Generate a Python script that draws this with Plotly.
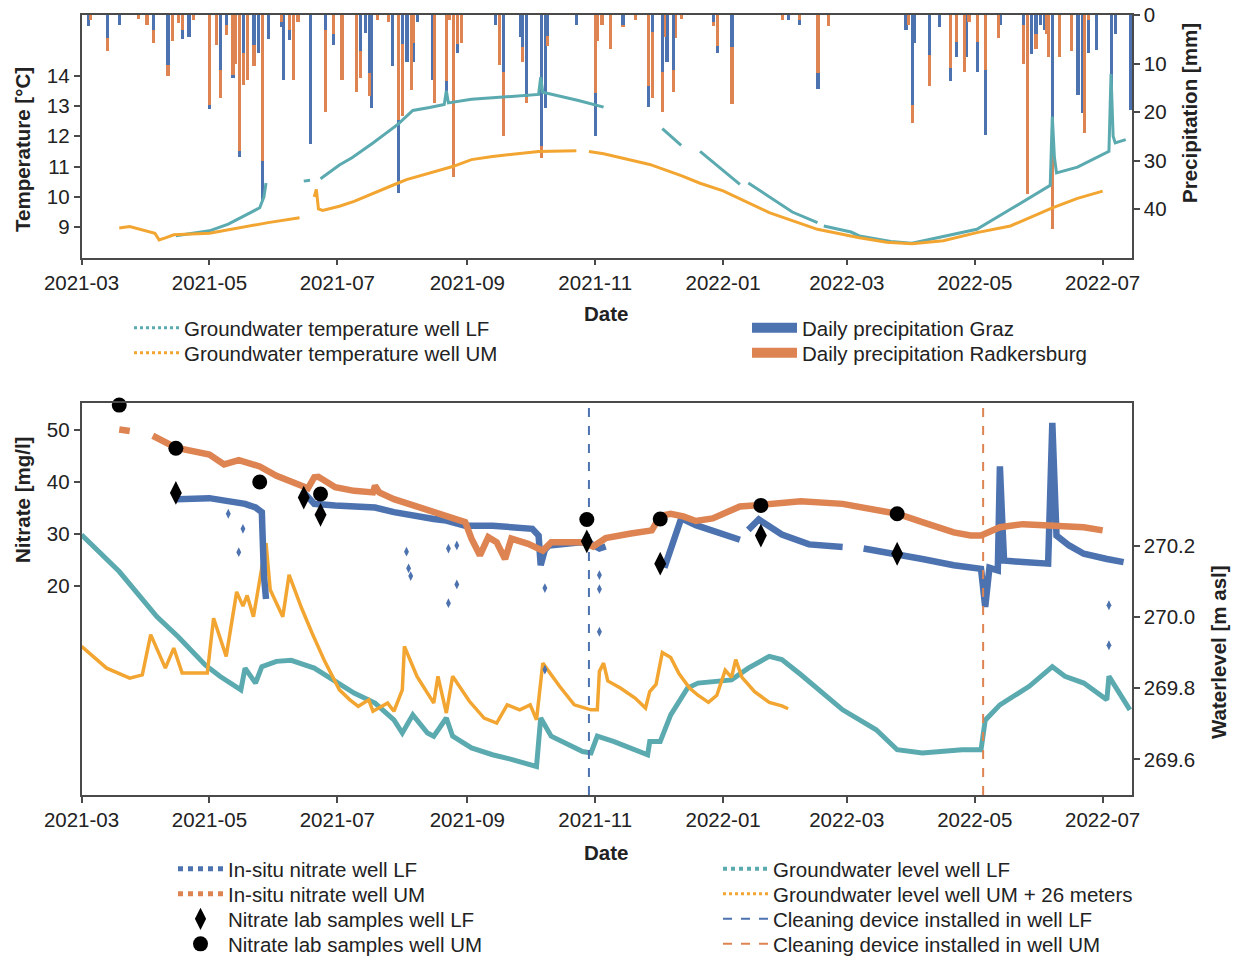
import plotly.graph_objects as go

# ---------------- data ----------------
# daily precipitation [mm]
precip_graz = [
    ("2021-03-04", 2.3), ("2021-03-13", 4.8), ("2021-03-19", 2.0), ("2021-04-04", 3.0),
    ("2021-04-11", 10.3), ("2021-04-18", 5.0), ("2021-04-21", 4.5), ("2021-05-01", 19.4),
    ("2021-05-06", 11.3), ("2021-05-09", 2.0), ("2021-05-12", 13.0), ("2021-05-15", 29.2),
    ("2021-05-17", 7.9), ("2021-05-22", 6.2), ("2021-05-24", 7.9), ("2021-05-26", 38.4),
    ("2021-05-29", 5.0), ("2021-06-04", 2.4), ("2021-06-05", 13.4), ("2021-06-08", 5.2),
    ("2021-06-18", 26.5), ("2021-06-25", 3.0), ("2021-06-29", 6.2), ("2021-07-12", 7.5),
    ("2021-07-14", 3.8), ("2021-07-16", 12.0), ("2021-07-17", 19.2), ("2021-07-27", 10.6),
    ("2021-07-30", 36.7), ("2021-08-01", 6.0), ("2021-08-03", 9.6), ("2021-08-06", 9.6),
    ("2021-08-08", 1.5), ("2021-08-15", 13.4), ("2021-08-22", 17.1), ("2021-08-27", 7.9),
    ("2021-09-14", 2.0), ("2021-09-18", 11.7), ("2021-09-26", 4.5), ("2021-09-27", 6.5),
    ("2021-09-29", 17.0), ("2021-10-06", 27.1), ("2021-10-08", 19.2), ("2021-10-09", 4.3),
    ("2021-10-23", 2.0), ("2021-11-01", 25.0), ("2021-11-14", 2.0), ("2021-11-26", 18.9),
    ("2021-11-28", 3.5), ("2021-12-03", 11.7), ("2021-12-05", 9.6), ("2021-12-08", 11.3),
    ("2021-12-27", 1.5), ("2021-12-29", 7.8), ("2022-01-05", 6.5), ("2022-02-01", 1.0),
    ("2022-02-06", 2.0), ("2022-02-15", 15.3), ("2022-03-29", 3.0), ("2022-04-01", 18.5),
    ("2022-04-02", 5.8), ("2022-04-09", 8.2), ("2022-04-14", 2.5), ("2022-04-19", 13.7),
    ("2022-04-22", 8.6), ("2022-04-27", 8.6), ("2022-05-02", 11.7), ("2022-05-06", 24.7),
    ("2022-05-13", 2.0), ("2022-05-24", 2.0), ("2022-05-28", 8.0), ("2022-05-30", 4.0),
    ("2022-06-01", 2.0), ("2022-06-03", 3.0), ("2022-06-07", 24.0), ("2022-06-19", 16.5),
    ("2022-06-21", 20.2), ("2022-06-24", 7.9), ("2022-06-28", 7.2), ("2022-07-05", 18.9),
    ("2022-07-07", 4.0), ("2022-07-14", 19.5),
]
precip_radkersburg = [
    ("2021-03-05", 1.0), ("2021-03-13", 7.5), ("2021-03-28", 0.8), ("2021-04-01", 2.0),
    ("2021-04-04", 5.8), ("2021-04-11", 12.6), ("2021-04-13", 5.3), ("2021-04-16", 1.7),
    ("2021-04-18", 3.0), ("2021-04-23", 1.0), ("2021-05-01", 18.5), ("2021-05-04", 6.2),
    ("2021-05-06", 17.1), ("2021-05-09", 4.1), ("2021-05-12", 12.4), ("2021-05-13", 10.0),
    ("2021-05-15", 28.1), ("2021-05-17", 14.4), ("2021-05-19", 13.4), ("2021-05-22", 10.6),
    ("2021-05-26", 30.2), ("2021-06-04", 1.5), ("2021-06-08", 3.0), ("2021-06-10", 13.4),
    ("2021-06-12", 1.5), ("2021-06-25", 19.9), ("2021-06-29", 4.0), ("2021-07-03", 13.4),
    ("2021-07-10", 15.8), ("2021-07-12", 13.0), ("2021-07-16", 16.8), ("2021-07-20", 1.0),
    ("2021-07-25", 1.5), ("2021-07-30", 21.6), ("2021-08-01", 20.9), ("2021-08-05", 15.4),
    ("2021-08-06", 5.8), ("2021-08-16", 18.2), ("2021-08-22", 13.7), ("2021-08-23", 1.0),
    ("2021-08-25", 33.3), ("2021-08-27", 6.0), ("2021-08-29", 5.8), ("2021-09-16", 10.3),
    ("2021-09-18", 25.0), ("2021-09-27", 9.6), ("2021-09-29", 18.2), ("2021-10-06", 29.5),
    ("2021-10-09", 6.4), ("2021-11-01", 16.1), ("2021-11-02", 5.4), ("2021-11-04", 2.0),
    ("2021-11-08", 7.0), ("2021-11-14", 2.4), ("2021-11-20", 1.0), ("2021-11-26", 14.6),
    ("2021-11-28", 17.1), ("2021-12-03", 19.9), ("2021-12-04", 4.5), ("2021-12-08", 15.8),
    ("2021-12-09", 4.8), ("2021-12-12", 0.8), ("2021-12-27", 2.2), ("2021-12-29", 6.4),
    ("2022-01-05", 18.3), ("2022-01-29", 1.0), ("2022-02-06", 1.0), ("2022-02-15", 12.0),
    ("2022-02-20", 2.2), ("2022-03-30", 2.0), ("2022-04-01", 22.3), ("2022-04-09", 14.7),
    ("2022-04-19", 11.0), ("2022-04-22", 5.5), ("2022-04-26", 11.7), ("2022-04-28", 1.5),
    ("2022-05-02", 5.5), ("2022-05-06", 11.3), ("2022-05-12", 4.8), ("2022-05-24", 10.0),
    ("2022-05-26", 37.0), ("2022-05-30", 7.0), ("2022-06-04", 4.0), ("2022-06-05", 8.6),
    ("2022-06-07", 44.2), ("2022-06-10", 8.6), ("2022-06-16", 7.5), ("2022-06-22", 24.3),
    ("2022-06-24", 1.0), ("2022-07-05", 20.8),
]

# groundwater temperature [°C]  (None = logger gap)
temp_lf = [
    ("2021-04-15", 8.72), ("2021-05-01", 8.88), ("2021-05-10", 9.10), ("2021-05-18", 9.40),
    ("2021-05-25", 9.64), ("2021-05-27", 10.0), ("2021-05-28", 10.46), ("2021-06-06", None),
    ("2021-06-15", 10.52), ("2021-06-18", 10.55), ("2021-06-20", None), ("2021-06-23", 10.60),
    ("2021-07-02", 11.05), ("2021-07-08", 11.29), ("2021-07-18", 11.78), ("2021-07-30", 12.40),
    ("2021-08-06", 12.85), ("2021-08-14", 12.95), ("2021-08-21", 13.05), ("2021-08-22", 13.50),
    ("2021-08-23", 13.10), ("2021-09-03", 13.22), ("2021-09-28", 13.34), ("2021-10-05", 13.38),
    ("2021-10-06", 13.95), ("2021-10-07", 13.45), ("2021-10-24", 13.18), ("2021-11-05", 12.96),
    ("2021-11-20", None), ("2021-12-03", 12.25), ("2021-12-12", 11.70), ("2021-12-16", None),
    ("2021-12-21", 11.50), ("2022-01-09", 10.41), ("2022-01-11", None), ("2022-01-13", 10.46),
    ("2022-02-02", 9.53), ("2022-02-03", 9.50), ("2022-02-15", 9.15), ("2022-02-16", None),
    ("2022-02-18", 9.04), ("2022-03-03", 8.84), ("2022-03-07", 8.71), ("2022-03-22", 8.53),
    ("2022-04-01", 8.47), ("2022-04-16", 8.70), ("2022-05-02", 8.93), ("2022-05-18", 9.59),
    ("2022-06-06", 10.38), ("2022-06-07", 12.65), ("2022-06-08", 11.30), ("2022-06-09", 10.79),
    ("2022-06-19", 10.98), ("2022-07-04", 11.50), ("2022-07-05", 14.05), ("2022-07-06", 12.00),
    ("2022-07-07", 11.78), ("2022-07-12", 11.89),
]
temp_um = [
    ("2021-03-19", 8.97), ("2021-03-24", 9.02), ("2021-04-05", 8.80), ("2021-04-07", 8.58),
    ("2021-04-10", 8.65), ("2021-04-14", 8.75), ("2021-05-01", 8.80), ("2021-05-14", 8.97),
    ("2021-05-29", 9.15), ("2021-06-13", 9.31), ("2021-06-17", None), ("2021-06-20", 10.0),
    ("2021-06-21", 10.25), ("2021-06-22", 9.60), ("2021-06-24", 9.55), ("2021-07-02", 9.69),
    ("2021-07-09", 9.85), ("2021-07-28", 10.40), ("2021-08-03", 10.57), ("2021-08-25", 11.00),
    ("2021-09-03", 11.23), ("2021-09-13", 11.33), ("2021-10-05", 11.50), ("2021-10-23", 11.52),
    ("2021-10-26", None), ("2021-10-29", 11.50), ("2021-11-05", 11.42), ("2021-11-27", 11.07),
    ("2021-12-12", 10.70), ("2021-12-21", 10.45), ("2022-01-01", 10.20), ("2022-01-23", 9.48),
    ("2022-02-15", 8.93), ("2022-03-07", 8.65), ("2022-03-20", 8.50), ("2022-04-01", 8.45),
    ("2022-04-16", 8.55), ("2022-05-02", 8.82), ("2022-05-18", 9.04), ("2022-06-07", 9.64),
    ("2022-06-19", 9.95), ("2022-07-01", 10.19),
]

# in-situ nitrate [mg/l]
nitrate_lf = [
    ("2021-04-15", 37.5), ("2021-04-16", 36.7), ("2021-05-01", 36.9), ("2021-05-10", 36.4),
    ("2021-05-18", 35.8), ("2021-05-23", 35.1), ("2021-05-26", 34.2), ("2021-05-27", 22.0),
    ("2021-05-28", 17.5), ("2021-06-06", None), ("2021-06-15", 38.0), ("2021-06-18", 36.5),
    ("2021-06-20", 35.8), ("2021-06-30", 35.5), ("2021-07-09", 35.3), ("2021-07-19", 35.1),
    ("2021-07-28", 34.2), ("2021-08-06", 33.5), ("2021-08-16", 32.9), ("2021-08-22", 32.6),
    ("2021-08-31", 31.6), ("2021-09-13", 31.6), ("2021-10-02", 31.0), ("2021-10-05", 29.7),
    ("2021-10-06", 24.0), ("2021-10-08", 27.0), ("2021-10-10", 27.8), ("2021-10-25", 28.4),
    ("2021-10-30", 28.1), ("2021-11-03", 27.2), ("2021-11-06", 27.6), ("2021-11-20", None),
    ("2021-12-04", 23.5), ("2021-12-12", 33.0), ("2021-12-19", 31.7), ("2022-01-01", 29.9),
    ("2022-01-09", 28.9), ("2022-01-11", None), ("2022-01-13", 30.8), ("2022-01-18", 32.8),
    ("2022-01-29", 29.9), ("2022-02-11", 28.0), ("2022-02-27", 27.5), ("2022-03-04", None),
    ("2022-03-09", 27.2), ("2022-03-25", 26.2), ("2022-04-06", 25.2), ("2022-04-21", 24.0),
    ("2022-05-04", 23.3), ("2022-05-06", 16.0), ("2022-05-08", 23.5), ("2022-05-12", 23.0),
    ("2022-05-13", 43.0), ("2022-05-14", 33.5), ("2022-05-15", 24.9), ("2022-05-24", 24.6),
    ("2022-06-05", 24.3), ("2022-06-07", 51.4), ("2022-06-08", 41.8), ("2022-06-09", 29.7),
    ("2022-06-15", 27.8), ("2022-06-22", 26.2), ("2022-07-03", 25.2), ("2022-07-11", 24.6),
]
nitrate_lf_dips = [
    ("2021-05-10", 33.9), ("2021-05-15", 26.5), ("2021-05-17", 31.0), ("2021-08-03", 26.6),
    ("2021-08-04", 23.4), ("2021-08-05", 21.9), ("2021-08-23", 27.2), ("2021-08-23", 16.7),
    ("2021-08-27", 20.3), ("2021-08-27", 27.8), ("2021-10-08", 19.6), ("2021-10-08", 3.9),
    ("2021-11-03", 22.1), ("2021-11-03", 19.4), ("2021-11-03", 11.2), ("2022-07-04", 16.3),
    ("2022-07-04", 8.6),
]
nitrate_um = [
    ("2021-03-19", 50.1), ("2021-03-24", 49.8), ("2021-03-29", None), ("2021-04-04", 48.9),
    ("2021-04-15", 46.6), ("2021-05-01", 45.3), ("2021-05-08", 43.4), ("2021-05-15", 44.2),
    ("2021-05-22", 43.2), ("2021-05-25", 43.0), ("2021-06-02", 41.2), ("2021-06-13", 39.6),
    ("2021-06-17", 38.8), ("2021-06-20", 40.9), ("2021-06-22", 41.0), ("2021-06-30", 39.0),
    ("2021-07-09", 38.3), ("2021-07-18", 38.0), ("2021-07-19", 39.3), ("2021-07-21", 38.0),
    ("2021-07-28", 36.7), ("2021-08-07", 35.4), ("2021-08-16", 34.2), ("2021-08-25", 32.9),
    ("2021-08-31", 32.3), ("2021-09-03", 29.1), ("2021-09-07", 25.9), ("2021-09-11", 29.4),
    ("2021-09-15", 28.4), ("2021-09-19", 25.2), ("2021-09-22", 29.1), ("2021-09-30", 28.1),
    ("2021-10-07", 26.8), ("2021-10-11", 28.4), ("2021-10-26", 28.4), ("2021-10-31", 27.6),
    ("2021-11-06", 29.2), ("2021-11-18", 30.1), ("2021-11-28", 30.7), ("2021-12-02", 33.5),
    ("2021-12-07", 33.9), ("2021-12-13", 33.4), ("2021-12-19", 32.5), ("2021-12-27", 33.0),
    ("2022-01-09", 35.3), ("2022-01-19", 35.6), ("2022-02-07", 36.3), ("2022-02-27", 35.8),
    ("2022-03-25", 33.9), ("2022-04-06", 32.3), ("2022-04-21", 30.3), ("2022-04-29", 29.7),
    ("2022-05-04", 29.7), ("2022-05-13", 31.3), ("2022-05-24", 31.9), ("2022-06-03", 31.7),
    ("2022-06-13", 31.5), ("2022-06-22", 31.3), ("2022-07-01", 30.7),
]

# nitrate lab samples [mg/l]
lab_lf = [
    ("2021-04-15", 37.9), ("2021-06-15", 37.0), ("2021-06-23", 33.7), ("2021-10-28", 28.6),
    ("2021-12-02", 24.3), ("2022-01-19", 29.7), ("2022-03-25", 26.2),
]
lab_um = [
    ("2021-03-19", 54.8), ("2021-04-15", 46.5), ("2021-05-25", 40.0), ("2021-06-23", 37.7),
    ("2021-10-28", 32.8), ("2021-12-02", 32.9), ("2022-01-19", 35.5), ("2022-03-25", 33.9),
]

# groundwater level [m asl]
level_lf = [
    ("2021-03-01", 270.230), ("2021-03-19", 270.127), ("2021-04-06", 270.000), ("2021-04-16", 269.945),
    ("2021-04-29", 269.865), ("2021-05-06", 269.833), ("2021-05-16", 269.795), ("2021-05-18", 269.856),
    ("2021-05-23", 269.814), ("2021-05-26", 269.860), ("2021-06-02", 269.875), ("2021-06-09", 269.878),
    ("2021-06-20", 269.856), ("2021-07-02", 269.814), ("2021-07-09", 269.786), ("2021-07-19", 269.758),
    ("2021-07-28", 269.711), ("2021-08-01", 269.674), ("2021-08-06", 269.725), ("2021-08-13", 269.674),
    ("2021-08-16", 269.665), ("2021-08-22", 269.716), ("2021-08-25", 269.665), ("2021-09-03", 269.632),
    ("2021-09-13", 269.613), ("2021-09-22", 269.600), ("2021-10-04", 269.580), ("2021-10-06", 269.716),
    ("2021-10-11", 269.665), ("2021-10-26", 269.622), ("2021-10-30", 269.618), ("2021-11-02", 269.665),
    ("2021-11-10", 269.650), ("2021-11-26", 269.613), ("2021-11-27", 269.650), ("2021-12-02", 269.650),
    ("2021-12-07", 269.725), ("2021-12-15", 269.800), ("2021-12-20", 269.814), ("2022-01-05", 269.823),
    ("2022-01-13", 269.856), ("2022-01-23", 269.889), ("2022-01-29", 269.880), ("2022-02-07", 269.838),
    ("2022-02-27", 269.739), ("2022-03-15", 269.683), ("2022-03-25", 269.627), ("2022-04-06", 269.618),
    ("2022-04-25", 269.627), ("2022-05-04", 269.627), ("2022-05-06", 269.710), ("2022-05-13", 269.753),
    ("2022-05-27", 269.805), ("2022-06-07", 269.860), ("2022-06-13", 269.833), ("2022-06-22", 269.814),
    ("2022-07-03", 269.767), ("2022-07-04", 269.833), ("2022-07-14", 269.739),
]
level_um_plus26 = [
    ("2021-03-01", 269.917), ("2021-03-13", 269.856), ("2021-03-24", 269.828), ("2021-03-30", 269.837),
    ("2021-04-03", 269.950), ("2021-04-10", 269.856), ("2021-04-14", 269.912), ("2021-04-18", 269.842),
    ("2021-04-30", 269.842), ("2021-05-03", 269.996), ("2021-05-09", 269.889), ("2021-05-14", 270.070),
    ("2021-05-17", 270.030), ("2021-05-19", 270.060), ("2021-05-22", 270.000), ("2021-05-28", 270.207),
    ("2021-05-30", 270.076), ("2021-06-05", 270.000), ("2021-06-08", 270.118), ("2021-06-14", 270.024),
    ("2021-06-19", 269.954), ("2021-06-25", 269.875), ("2021-07-02", 269.795), ("2021-07-07", 269.767),
    ("2021-07-11", 269.749), ("2021-07-16", 269.767), ("2021-07-18", 269.735), ("2021-07-25", 269.758),
    ("2021-07-28", 269.735), ("2021-08-01", 269.795), ("2021-08-02", 269.917), ("2021-08-08", 269.833),
    ("2021-08-16", 269.758), ("2021-08-18", 269.833), ("2021-08-22", 269.730), ("2021-08-25", 269.833),
    ("2021-09-02", 269.763), ("2021-09-09", 269.716), ("2021-09-15", 269.702), ("2021-09-20", 269.753),
    ("2021-09-26", 269.739), ("2021-10-01", 269.753), ("2021-10-04", 269.711), ("2021-10-07", 269.870),
    ("2021-10-15", 269.805), ("2021-10-22", 269.753), ("2021-10-30", 269.739), ("2021-11-02", 269.739),
    ("2021-11-03", 269.847), ("2021-11-05", 269.870), ("2021-11-07", 269.820), ("2021-11-13", 269.800),
    ("2021-11-20", 269.772), ("2021-11-25", 269.744), ("2021-11-27", 269.790), ("2021-11-30", 269.810),
    ("2021-12-03", 269.900), ("2021-12-07", 269.886), ("2021-12-11", 269.840), ("2021-12-16", 269.800),
    ("2021-12-20", 269.780), ("2021-12-25", 269.760), ("2021-12-29", 269.780), ("2022-01-02", 269.850),
    ("2022-01-05", 269.830), ("2022-01-07", 269.880), ("2022-01-10", 269.830), ("2022-01-16", 269.790),
    ("2022-01-23", 269.760), ("2022-01-29", 269.750), ("2022-02-01", 269.742),
]

# cleaning device installation dates
cleaning_lf = "2021-10-29"
cleaning_um = "2022-05-05"

date_range = ["2021-03-01", "2022-07-15"]
temp_ticks = [9, 10, 11, 12, 13, 14]
precip_ticks = [0, 10, 20, 30, 40]
nitrate_ticks = [20, 30, 40, 50]
level_ticks = [269.6, 269.8, 270.0, 270.2]

# ---------------- styling ----------------
FONT = "Liberation Sans, Arial, sans-serif"
FS = 20.5
INK = "#222222"
AXIS = "#4a4a4a"
BLUE = "#4c72b0"
ORANGE = "#dd8452"
TEAL = "#5aaab0"
AMBER = "#f2a531"
W, H = 1237, 960
NIT_RANGE = [-20.2, 55.2]
LEV_RANGE = [269.5, 270.6]


def fx(p):
    return p / W


def fy(p):
    return 1 - p / H


def cols(series):
    return [d for d, _ in series], [v for _, v in series]


DAY_MS = 86400000
fig = go.Figure()

# precipitation bars (shorter bar of a day drawn on top so both remain visible)
radk_by_day = dict(precip_radkersburg)
graz_short = [(d, v) for d, v in precip_graz if v < radk_by_day.get(d, 0)]
for series, color in ((precip_graz, BLUE), (precip_radkersburg, ORANGE), (graz_short, BLUE)):
    xs, ys = cols(series)
    fig.add_trace(go.Bar(x=xs, y=ys, width=DAY_MS * 1.5, marker=dict(color=color, line_width=0),
                         xaxis="x", yaxis="y", showlegend=False, hoverinfo="skip"))

# temperatures
for series, color in ((temp_lf, TEAL), (temp_um, AMBER)):
    xs, ys = cols(series)
    fig.add_trace(go.Scatter(x=xs, y=ys, mode="lines", line=dict(color=color, width=3),
                             connectgaps=False, xaxis="x", yaxis="y2", showlegend=False))

# water levels (lower panel, right axis)
xs, ys = cols(level_lf)
fig.add_trace(go.Scatter(x=xs, y=ys, mode="lines", line=dict(color=TEAL, width=5),
                         xaxis="x2", yaxis="y3", showlegend=False))
xs, ys = cols(level_um_plus26)
fig.add_trace(go.Scatter(x=xs, y=ys, mode="lines", line=dict(color=AMBER, width=3.5),
                         xaxis="x2", yaxis="y3", showlegend=False))

# in-situ nitrate (lower panel, left axis)
xs, ys = cols(nitrate_lf)
fig.add_trace(go.Scatter(x=xs, y=ys, mode="lines", line=dict(color=BLUE, width=6.5),
                         connectgaps=False, xaxis="x2", yaxis="y4", showlegend=False))
xs, ys = cols(nitrate_lf_dips)
fig.add_trace(go.Scatter(x=xs, y=ys, mode="markers", marker=dict(color=BLUE, size=7, symbol="diamond-tall"),
                         xaxis="x2", yaxis="y4", showlegend=False))
xs, ys = cols(nitrate_um)
fig.add_trace(go.Scatter(x=xs, y=ys, mode="lines", line=dict(color=ORANGE, width=6.5),
                         connectgaps=False, xaxis="x2", yaxis="y4", showlegend=False))

# cleaning device lines
fig.add_trace(go.Scatter(x=[cleaning_lf, cleaning_lf], y=NIT_RANGE, mode="lines",
                         line=dict(color=BLUE, width=2, dash="dash"), xaxis="x2", yaxis="y4",
                         showlegend=False))
fig.add_trace(go.Scatter(x=[cleaning_um, cleaning_um], y=NIT_RANGE, mode="lines",
                         line=dict(color=ORANGE, width=2, dash="dash"), xaxis="x2", yaxis="y4",
                         showlegend=False))

# lab samples
xs, ys = cols(lab_lf)
fig.add_trace(go.Scatter(x=xs, y=ys, mode="markers", marker=dict(color="black", size=17, symbol="diamond-tall"),
                         cliponaxis=False, xaxis="x2", yaxis="y4", showlegend=False))
xs, ys = cols(lab_um)
fig.add_trace(go.Scatter(x=xs, y=ys, mode="markers", marker=dict(color="black", size=15, symbol="circle"),
                         cliponaxis=False, xaxis="x2", yaxis="y4", showlegend=False))

# ---------------- legend: one single-entry legend per row ----------------
# (name, line style or marker, text x, row centre y)
legend_rows = [
    ("Groundwater temperature well LF", dict(line=dict(color=TEAL, width=3, dash="dot")), 185, 330),
    ("Groundwater temperature well UM", dict(line=dict(color=AMBER, width=3, dash="dot")), 185, 355),
    ("Daily precipitation Graz", dict(line=dict(color=BLUE, width=16)), 803, 330),
    ("Daily precipitation Radkersburg", dict(line=dict(color=ORANGE, width=16)), 803, 355),
    ("In-situ nitrate well LF", dict(line=dict(color=BLUE, width=5, dash="dot")), 229, 871),
    ("In-situ nitrate well UM", dict(line=dict(color=ORANGE, width=5, dash="dot")), 229, 896),
    ("Nitrate lab samples well LF", dict(marker=dict(color="black", size=17, symbol="diamond-tall")), 229, 921),
    ("Nitrate lab samples well UM", dict(marker=dict(color="black", size=15, symbol="circle")), 229, 946),
    ("Groundwater level well LF", dict(line=dict(color=TEAL, width=4, dash="dot")), 774, 871),
    ("Groundwater level well UM + 26 meters", dict(line=dict(color=AMBER, width=3, dash="dot")), 774, 896),
    ("Cleaning device installed in well LF", dict(line=dict(color=BLUE, width=2, dash="dash")), 774, 921),
    ("Cleaning device installed in well UM", dict(line=dict(color=ORANGE, width=2, dash="dash")), 774, 946),
]
TEXT_OFFSET = 56   # legend text starts this far right of the legend box edge
ROW_BELOW = 18     # legend box bottom sits this far below the row centre
legend_layout = {}
for i, (name, style, tx, ty) in enumerate(legend_rows):
    key = "legend" if i == 0 else f"legend{i + 1}"
    mode = "markers" if "marker" in style else "lines"
    fig.add_trace(go.Scatter(x=[None], y=[None], mode=mode, name=name, legend=key,
                             xaxis="x2", yaxis="y4", **style))
    legend_layout[key] = dict(font=dict(family=FONT, size=FS, color=INK), bgcolor="rgba(0,0,0,0)",
                              xanchor="left", yanchor="bottom", itemwidth=45,
                              x=fx(tx - TEXT_OFFSET), y=fy(ty + ROW_BELOW))

tick_font = dict(family=FONT, size=FS, color=INK)
axis_common = dict(showline=True, linecolor=AXIS, linewidth=1.5, ticks="outside", ticklen=6,
                   tickwidth=1.5, tickcolor=AXIS, showgrid=False, zeroline=False, tickfont=tick_font,
                   automargin=False)

xdom = [fx(81.5), fx(1132)]
top_dom = [fy(257.5), fy(15)]
bot_dom = [fy(795), fy(403)]

x_common = dict(axis_common, domain=xdom, type="date", range=date_range, tick0="2021-03-01",
                dtick="M2", tickformat="%Y-%m", mirror=True)

fig.update_layout(
    width=W, height=H, margin=dict(l=0, r=0, t=0, b=0, autoexpand=False),
    paper_bgcolor="white", plot_bgcolor="white",
    barmode="overlay", bargap=0,
    font=dict(family=FONT, size=FS, color=INK),
    xaxis=dict(x_common, anchor="y"),
    yaxis=dict(axis_common, domain=top_dom, anchor="x", side="right", range=[50, 0],
               tickvals=precip_ticks),
    yaxis2=dict(axis_common, overlaying="y", side="left", range=[8, 16], tickvals=temp_ticks,
                anchor="x"),
    xaxis2=dict(x_common, anchor="y3"),
    yaxis3=dict(axis_common, domain=bot_dom, anchor="x2", side="right", range=LEV_RANGE,
                tickvals=level_ticks, tickformat=".1f"),
    yaxis4=dict(axis_common, overlaying="y3", side="left", range=NIT_RANGE, tickvals=nitrate_ticks,
                anchor="x2"),
    showlegend=True,
    **legend_layout,
)

title_font = dict(family=FONT, size=FS, color=INK)
annotations = [
    ("<b>Temperature [°C]</b>", 22, 150, -90),
    ("<b>Precipitation [mm]</b>", 1190, 113, -90),
    ("<b>Date</b>", 606, 313, 0),
    ("<b>Nitrate [mg/l]</b>", 22, 500, -90),
    ("<b>Waterlevel [m asl]</b>", 1218, 652, -90),
    ("<b>Date</b>", 606, 852, 0),
]
for text, px, py, ang in annotations:
    fig.add_annotation(text=text, x=fx(px), y=fy(py), xref="paper", yref="paper",
                       showarrow=False, textangle=ang, font=title_font,
                       xanchor="center", yanchor="middle")

fig.write_html("out.html")
